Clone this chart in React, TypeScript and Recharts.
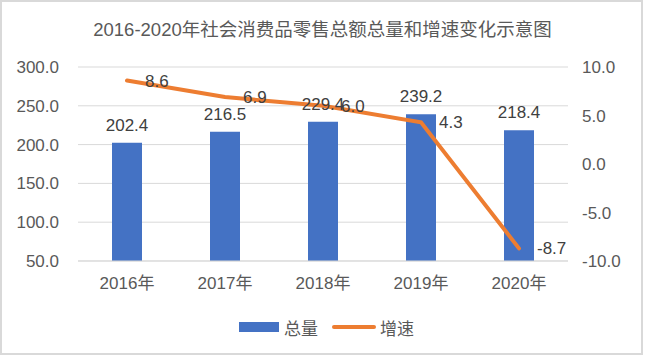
import React from "react";
import {
  ComposedChart,
  Bar,
  Line,
  XAxis,
  YAxis,
  CartesianGrid,
  LabelList,
  Legend,
} from "recharts";

// 2016-2020 retail totals (bars, left axis) and growth rate (line, right axis)
const years = ["2016年", "2017年", "2018年", "2019年", "2020年"];
const totals = [202.4, 216.5, 229.4, 239.2, 218.4];
const growth = [8.6, 6.9, 6.0, 4.3, -8.7];
const leftTicks = [50, 100, 150, 200, 250, 300];
const rightTicks = [-10, -5, 0, 5, 10];

const FONT = '"Liberation Sans", "Noto Sans CJK SC", sans-serif';
const BLUE = "#4472C4";
const ORANGE = "#ED7D31";
const GRID = "#d9d9d9";
const TICK = "#595959";

const data = years.map((year, i) => ({
  year,
  总量: totals[i],
  增速: growth[i],
}));

const fmt = (v: unknown) => (typeof v === "number" ? v.toFixed(1) : String(v ?? ""));

function LegendBox() {
  return (
    <div
      style={{
        display: "flex",
        justifyContent: "center",
        alignItems: "center",
        fontFamily: FONT,
        fontSize: 17,
        color: TICK,
        height: 24,
        paddingLeft: 8,
      }}
    >
      <span style={{ width: 40, height: 10, background: BLUE, marginRight: 5 }} />
      <span style={{ marginRight: 14 }}>总量</span>
      <span
        style={{ width: 44, height: 4, borderRadius: 2, background: ORANGE, marginRight: 4 }}
      />
      <span>增速</span>
    </div>
  );
}

export default function App() {
  return (
    <div
      style={{
        position: "absolute",
        left: 0,
        top: 0,
        width: 645,
        height: 357,
        background: "#fff",
        fontFamily: FONT,
      }}
    >
      <div
        style={{
          position: "absolute",
          left: 0,
          top: 0,
          width: 643,
          height: 355,
          boxSizing: "border-box",
          border: `2px solid ${GRID}`,
          pointerEvents: "none",
        }}
      />
      <div
        style={{
          position: "absolute",
          top: 18,
          left: 0,
          width: 645,
          textAlign: "center",
          fontSize: 18.5,
          color: TICK,
          lineHeight: "24px",
        }}
      >
        2016-2020年社会消费品零售总额总量和增速变化示意图
      </div>
      <ComposedChart
        width={645}
        height={357}
        data={data}
        margin={{ top: 67, right: 17, bottom: 42, left: 18 }}
        style={{ position: "absolute", left: 0, top: 0 }}
      >
        <CartesianGrid vertical={false} stroke={GRID} yAxisId="left" />
        <XAxis
          dataKey="year"
          axisLine={{ stroke: GRID }}
          tickLine={false}
          tickSize={0}
          tickMargin={16}
          height={30}
          tick={{ fill: TICK, fontSize: 17, fontFamily: FONT }}
        />
        <YAxis
          yAxisId="left"
          domain={[50, 300]}
          ticks={leftTicks}
          tickFormatter={fmt}
          axisLine={false}
          tickLine={false}
          tickSize={0}
          tickMargin={19}
          width={60}
          tick={{ fill: TICK, fontSize: 17, fontFamily: FONT }}
        />
        <YAxis
          yAxisId="right"
          orientation="right"
          domain={[-10, 10]}
          ticks={rightTicks}
          tickFormatter={fmt}
          axisLine={false}
          tickLine={false}
          tickSize={0}
          tickMargin={14}
          width={60}
          tick={{ fill: TICK, fontSize: 17, fontFamily: FONT }}
        />
        <Legend
          content={<LegendBox />}
          verticalAlign="bottom"
          wrapperStyle={{ top: 315, left: 0, width: 645 }}
        />
        <Bar
          yAxisId="left"
          dataKey="总量"
          fill={BLUE}
          barSize={30}
          isAnimationActive={false}
        >
          <LabelList
            dataKey="总量"
            position="top"
            offset={12}
            formatter={fmt}
            fill="#404040"
            fontSize={17}
            fontFamily={FONT}
          />
        </Bar>
        <Line
          yAxisId="right"
          dataKey="增速"
          stroke={ORANGE}
          strokeWidth={4}
          strokeLinecap="round"
          dot={false}
          activeDot={false}
          isAnimationActive={false}
        >
          <LabelList
            dataKey="增速"
            position="right"
            offset={18}
            formatter={fmt}
            fill="#404040"
            fontSize={17}
            fontFamily={FONT}
          />
        </Line>
      </ComposedChart>
    </div>
  );
}
